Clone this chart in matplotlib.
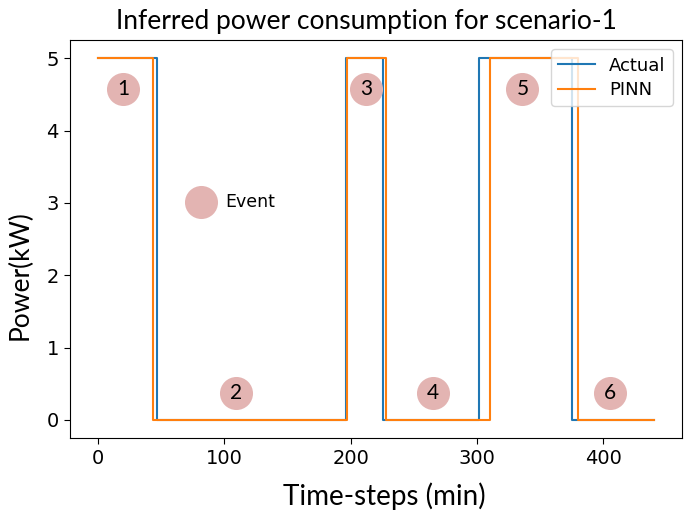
import matplotlib
matplotlib.use("Agg")
import matplotlib.pyplot as plt

# Step breakpoints (time in min, power in kW)
actual_t = [0, 47, 196, 226, 302, 375, 440]
actual_p = [5, 0, 5, 0, 5, 0, 0]
pinn_t = [0, 44, 197, 228, 310, 380, 440]
pinn_p = [5, 0, 5, 0, 5, 0, 0]

# Event markers
event_labels = ["1", "2", "3", "4", "5", "6"]
event_x = [20, 109, 212, 265, 336, 405]
event_y = [4.57, 0.37, 4.57, 0.37, 4.57, 0.37]
key_x, key_y = 81.5, 3.01

title = "Inferred power consumption for scenario-1"
xlabel = "Time-steps (min)"
ylabel = "Power(kW)"

circ_color = "#e3b4b2"
hfont = "Lato"

W, H = 685, 514
fig = plt.figure(figsize=(W / 100, H / 100), dpi=100)
ax = fig.add_axes([70 / W, 1 - 438 / H, (681.7 - 70) / W, (438 - 40.3) / H])

ax.step(actual_t, actual_p, where="post", color="#1f77b4", lw=1.5, label="Actual", zorder=2)
ax.step(pinn_t, pinn_p, where="post", color="#ff7f0e", lw=1.5, label="PINN", zorder=3)

ax.scatter(event_x, event_y, s=566, color=circ_color, zorder=4, linewidths=0)
for lab, x, y in zip(event_labels, event_x, event_y):
    ax.text(x, y, lab, ha="center", va="center", fontsize=15, family=hfont, zorder=5)

ax.scatter([key_x], [key_y], s=566, color=circ_color, zorder=4, linewidths=0)
ax.text(100.5, key_y, "Event", ha="left", va="center", fontsize=12.5, zorder=5)

ax.set_title(title, fontsize=19, family=hfont, x=0.484, pad=8)
fig.text(384 / W, 1 - 496 / H, xlabel, fontsize=20, family=hfont, ha="center", va="center")
fig.text(20 / W, 1 - 275 / H, ylabel, fontsize=19, family=hfont, ha="center", va="center",
         rotation=90)
ax.tick_params(labelsize=14, length=4.5)
ax.set_xticks([0, 100, 200, 300, 400])
ax.set_yticks([0, 1, 2, 3, 4, 5])

ax.legend(loc="upper right", fontsize=13, labelspacing=0.35)

fig.savefig("out.png", dpi=100)
